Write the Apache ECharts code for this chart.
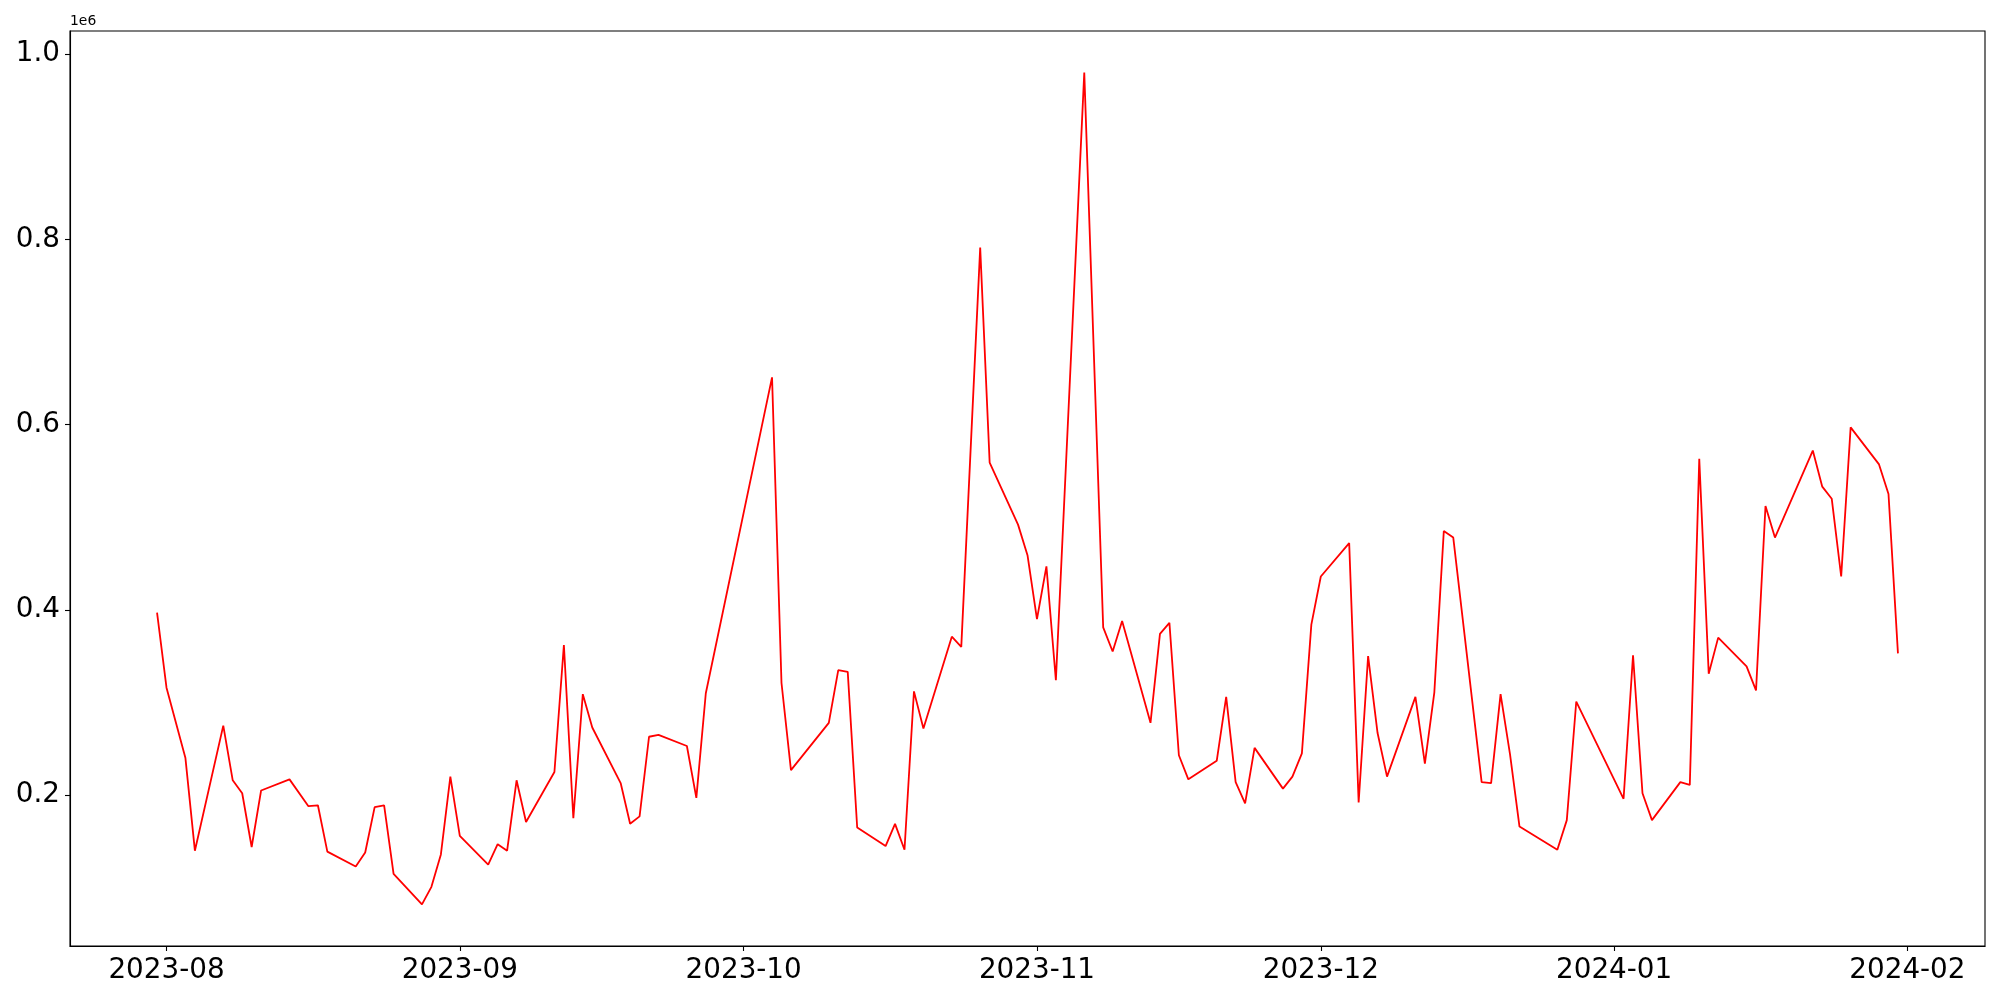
<!DOCTYPE html>
<html>
<head>
<meta charset="utf-8">
<script src="https://cdn.jsdelivr.net/npm/echarts@6/dist/echarts.min.js"></script>
<style>
html,body{margin:0;padding:0;background:#fff;}
#chart{width:2000px;height:1000px;}
</style>
</head>
<body>
<div id="chart"></div>
<script>
const dates = [
'2023-07-31','2023-08-01','2023-08-03','2023-08-04','2023-08-07','2023-08-08','2023-08-09','2023-08-10','2023-08-11',
'2023-08-14','2023-08-16','2023-08-17','2023-08-18','2023-08-21','2023-08-22','2023-08-23','2023-08-24','2023-08-25',
'2023-08-28','2023-08-29','2023-08-30','2023-08-31','2023-09-01','2023-09-04','2023-09-05','2023-09-06','2023-09-07',
'2023-09-08','2023-09-11','2023-09-12','2023-09-13','2023-09-14','2023-09-15','2023-09-18','2023-09-19','2023-09-20',
'2023-09-21','2023-09-22','2023-09-25','2023-09-26','2023-09-27','2023-10-04','2023-10-05','2023-10-06','2023-10-10',
'2023-10-11','2023-10-12','2023-10-13','2023-10-16','2023-10-17','2023-10-18','2023-10-19','2023-10-20','2023-10-23',
'2023-10-24','2023-10-26','2023-10-27','2023-10-30','2023-10-31','2023-11-01','2023-11-02','2023-11-03','2023-11-06',
'2023-11-08','2023-11-09','2023-11-10','2023-11-13','2023-11-14','2023-11-15','2023-11-16','2023-11-17','2023-11-20',
'2023-11-21','2023-11-22','2023-11-23','2023-11-24','2023-11-27','2023-11-28','2023-11-29','2023-11-30','2023-12-01',
'2023-12-04','2023-12-05','2023-12-06','2023-12-07','2023-12-08','2023-12-11','2023-12-12','2023-12-13','2023-12-14',
'2023-12-15','2023-12-18','2023-12-19','2023-12-20','2023-12-21','2023-12-22','2023-12-26','2023-12-27','2023-12-28',
'2024-01-02','2024-01-03','2024-01-04','2024-01-05','2024-01-08','2024-01-09','2024-01-10','2024-01-11','2024-01-12',
'2024-01-15','2024-01-16','2024-01-17','2024-01-18','2024-01-22','2024-01-23','2024-01-24','2024-01-25','2024-01-26',
'2024-01-29','2024-01-30','2024-01-31'
];
const values = [
397000,316000,240000,140000,275000,216000,202000,144000,205000,
217000,188000,189000,139000,123000,138000,187000,189000,115000,
82000,101000,136000,220000,156000,125000,147000,140000,216000,
171000,225000,362000,175000,309000,273000,213000,169000,177000,
263000,265000,253000,197000,310000,651000,321000,227000,278000,
335000,333000,165000,145000,169000,141000,312000,272000,371000,
360000,791000,559000,492000,459000,390000,447000,324000,980000,
381000,355000,388000,278000,374000,386000,243000,217000,237000,
306000,214000,191000,251000,207000,220000,245000,384000,436000,
472000,192000,350000,267000,220000,306000,234000,311000,485000,
478000,214000,213000,309000,244000,166000,141000,173000,301000,
196000,351000,202000,173000,214000,211000,563000,331000,370000,
339000,313000,512000,478000,572000,533000,520000,436000,597000,
557000,525000,353000
];
const xTickLabels = ['2023-08','2023-09','2023-10','2023-11','2023-12','2024-01','2024-02'];
const yTickValues = [200000,400000,600000,800000,1000000];

function ts(s){ const p = s.split('-').map(Number); return Date.UTC(p[0], p[1]-1, p[2] || 1); }
const seriesData = dates.map((d,i)=>[ts(d), values[i]]);
const xTicks = xTickLabels.map(ts);

// matplotlib-like 5% margins
const xs = seriesData.map(p=>p[0]);
const xMinD = Math.min(...xs), xMaxD = Math.max(...xs);
const xPad = (xMaxD - xMinD) * 0.05;
const yMinD = Math.min(...values), yMaxD = Math.max(...values);
const yPad = (yMaxD - yMinD) * 0.05;

function fmtMonth(v){ const d = new Date(v); const m = d.getUTCMonth()+1; return d.getUTCFullYear() + '-' + (m<10?'0':'') + m; }

const chart = echarts.init(document.getElementById('chart'), null, {renderer:'canvas'});
chart.setOption({
  animation:false,
  backgroundColor:'#ffffff',
  grid:{left:70, right:15, top:31, bottom:54, show:true, borderColor:'#000', borderWidth:1.1, backgroundColor:'transparent'},
  xAxis:{
    type:'value',
    min:xMinD - xPad, max:xMaxD + xPad,
    splitLine:{show:false},
    axisLine:{show:true, onZero:false, lineStyle:{color:'#000', width:1.1}},
    axisTick:{show:true, customValues:xTicks, length:5, inside:false, lineStyle:{color:'#000', width:1.1}},
    axisLabel:{customValues:xTicks, formatter:fmtMonth, fontFamily:'DejaVu Sans', fontSize:27.8, color:'#000', margin:11}
  },
  yAxis:{
    type:'value',
    min:yMinD - yPad, max:yMaxD + yPad,
    name:'1e6',
    nameLocation:'end',
    nameGap:2.5,
    nameTextStyle:{fontFamily:'DejaVu Sans', fontSize:13.9, color:'#000', align:'left', verticalAlign:'bottom', padding:[0,0,0,0]},
    splitLine:{show:false},
    axisLine:{show:true, onZero:false, lineStyle:{color:'#000', width:1.1}},
    axisTick:{show:true, customValues:yTickValues, length:5, inside:false, lineStyle:{color:'#000', width:1.1}},
    axisLabel:{customValues:yTickValues, formatter:v=>(v/1e6).toFixed(1), fontFamily:'DejaVu Sans', fontSize:27.8, color:'#000', margin:10, padding:[5,0,0,0]}
  },
  series:[{
    type:'line',
    data:seriesData,
    showSymbol:false,
    symbol:'none',
    lineStyle:{color:'#ff0000', width:1.8},
    itemStyle:{color:'#ff0000'}
  }]
});
</script>
</body>
</html>
